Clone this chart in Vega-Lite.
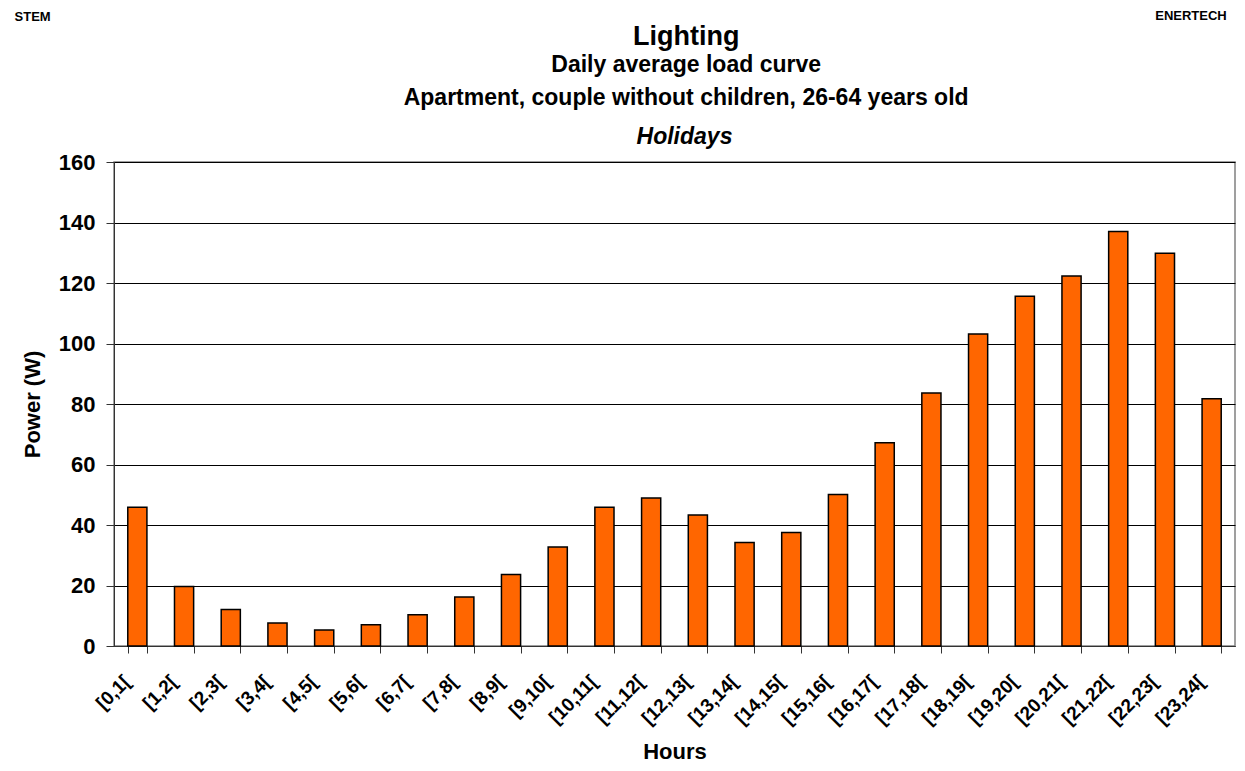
{
  "$schema": "https://vega.github.io/schema/vega-lite/v6.json",
  "background": "white",
  "autosize": {"type": "pad"},
  "padding": {"left": 14, "top": 10, "right": 8, "bottom": 4},
  "title": {"text": "STEM", "anchor": "start", "frame": "bounds", "font": "Liberation Sans", "fontSize": 13, "fontWeight": "bold", "color": "black", "offset": 0, "dx": -6, "dy": 14},
  "vconcat": [
    {
      "title": {"text": "ENERTECH", "anchor": "end", "frame": "bounds", "font": "Liberation Sans", "fontSize": 13, "fontWeight": "bold", "color": "black", "offset": 0, "dx": -9},
      "vconcat": [
        {
          "title": {
            "text": "Lighting",
            "subtitle": ["Daily average load curve", "Apartment, couple without children, 26-64 years old"],
            "anchor": "middle",
            "frame": "bounds",
            "font": "Liberation Sans",
            "fontSize": 27,
            "fontWeight": "bold",
            "color": "black",
            "subtitleFont": "Liberation Sans",
            "subtitleFontSize": 23,
            "subtitleFontWeight": "bold",
            "subtitleColor": "black",
            "subtitleLineHeight": 33,
            "subtitlePadding": 3,
            "offset": 14,
            "dx": 58
          },
          "vconcat": [
            {
              "width": 1121,
              "height": 484,
              "title": {"text": "Holidays", "anchor": "middle", "frame": "group", "font": "Liberation Sans", "fontSize": 23, "fontWeight": "bold", "fontStyle": "italic", "color": "black", "offset": 2, "dx": 10},
              "data": {
                "values": [
                  {"hour": "[0,1[", "power": 45.9},
                  {"hour": "[1,2[", "power": 19.7},
                  {"hour": "[2,3[", "power": 12.1},
                  {"hour": "[3,4[", "power": 7.6},
                  {"hour": "[4,5[", "power": 5.3},
                  {"hour": "[5,6[", "power": 7.0},
                  {"hour": "[6,7[", "power": 10.3},
                  {"hour": "[7,8[", "power": 16.2},
                  {"hour": "[8,9[", "power": 23.6},
                  {"hour": "[9,10[", "power": 32.7},
                  {"hour": "[10,11[", "power": 45.9},
                  {"hour": "[11,12[", "power": 48.9},
                  {"hour": "[12,13[", "power": 43.3},
                  {"hour": "[13,14[", "power": 34.2},
                  {"hour": "[14,15[", "power": 37.5},
                  {"hour": "[15,16[", "power": 50.1},
                  {"hour": "[16,17[", "power": 67.2},
                  {"hour": "[17,18[", "power": 83.6},
                  {"hour": "[18,19[", "power": 103.1},
                  {"hour": "[19,20[", "power": 115.6},
                  {"hour": "[20,21[", "power": 122.3},
                  {"hour": "[21,22[", "power": 137.0},
                  {"hour": "[22,23[", "power": 129.8},
                  {"hour": "[23,24[", "power": 81.7}
                ]
              },
              "mark": {"type": "bar", "fill": "#FF6600", "stroke": "#000000", "strokeWidth": 1.5},
              "encoding": {
                "x": {
                  "field": "hour",
                  "type": "nominal",
                  "sort": null,
                  "scale": {"paddingInner": 0.59, "paddingOuter": 0.295},
                  "axis": {
                    "title": "Hours",
                    "titleFont": "Liberation Sans",
                    "titleFontSize": 22,
                    "titleFontWeight": "bold",
                    "titleColor": "black",
                    "titlePadding": 13,
                    "labelAngle": -45,
                    "labelFont": "Liberation Sans",
                    "labelFontSize": 19,
                    "labelFontWeight": "bold",
                    "labelColor": "black",
                    "labelPadding": 19,
                    "labelOffset": -17,
                    "tickBand": "extent",
                    "tickSize": 7,
                    "tickColor": "#333333",
                    "domainColor": "#333333",
                    "grid": false
                  }
                },
                "y": {
                  "field": "power",
                  "type": "quantitative",
                  "scale": {"domain": [0, 160], "nice": false},
                  "axis": {
                    "title": "Power (W)",
                    "titleFont": "Liberation Sans",
                    "titleFontSize": 22,
                    "titleFontWeight": "bold",
                    "titleColor": "black",
                    "titlePadding": 14,
                    "values": [0, 20, 40, 60, 80, 100, 120, 140, 160],
                    "labelFont": "Liberation Sans",
                    "labelFontSize": 22,
                    "labelFontWeight": "bold",
                    "labelColor": "black",
                    "labelPadding": 11,
                    "tickSize": 8,
                    "tickColor": "#333333",
                    "domainColor": "#333333",
                    "grid": true,
                    "gridColor": "#000000",
                    "gridWidth": 1
                  }
                }
              }
            }
          ]
        }
      ]
    }
  ],
  "config": {
    "concat": {"spacing": 0},
    "view": {"stroke": "#808080", "strokeWidth": 1.5}
  }
}
